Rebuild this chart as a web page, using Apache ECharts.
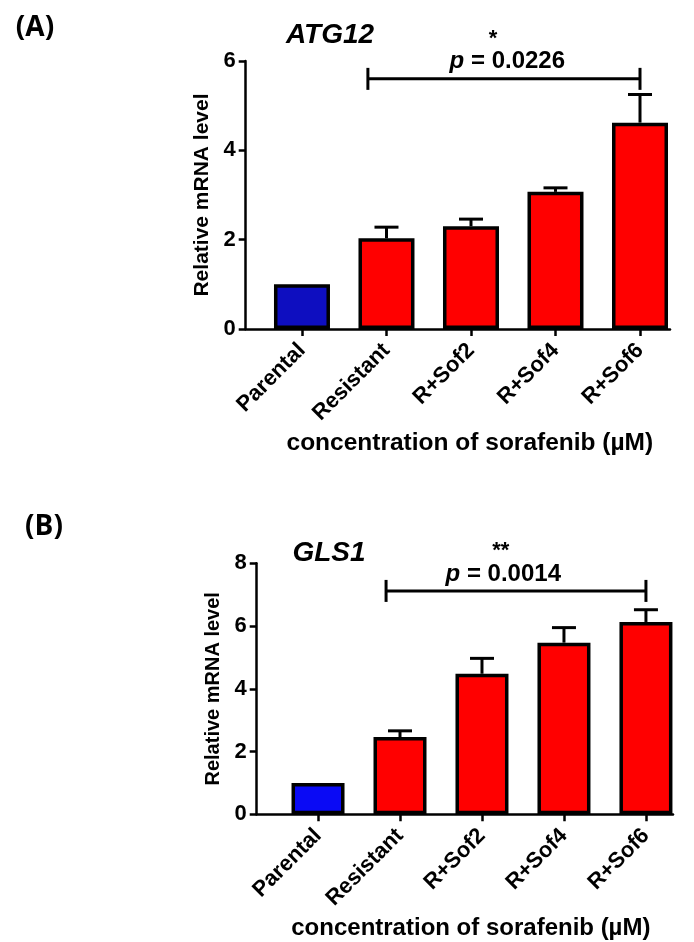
<!DOCTYPE html>
<html>
<head>
<meta charset="utf-8">
<script src="https://cdn.jsdelivr.net/npm/echarts@6/dist/echarts.min.js"></script>
<style>
html,body{margin:0;padding:0;background:#fff;}
#c{width:694px;height:942px;}
</style>
</head>
<body>
<div id="c"></div>
<script>
// ---- data ----
const categories = ['Parental', 'Resistant', 'R+Sof2', 'R+Sof4', 'R+Sof6'];
const atg12Mean = [1.0, 2.03, 2.30, 3.07, 4.62];
const atg12ErrTop = [null, 2.28, 2.46, 3.16, 5.25];
const gls1Mean = [1.0, 2.46, 4.48, 5.47, 6.13];
const gls1ErrTop = [null, 2.66, 4.97, 5.95, 6.52];
const yMaxA = 6, yMaxB = 8, yStep = 2;
const sigA = { from: 0.78, to: 4, level: 5.6, textAt: 2.43, starAt: 2.26, p: '0.0226', stars: '*' };
const sigB = { from: 0.83, to: 4, level: 7.12, textAt: 2.26, starAt: 2.23, p: '0.0014', stars: '**' };

const FONT = 'Liberation Sans, Arial, sans-serif';
const colorsA = ['#0e0ec0', '#ff0000', '#ff0000', '#ff0000', '#ff0000'];
const colorsB = ['#0a0af5', '#ff0000', '#ff0000', '#ff0000', '#ff0000'];

function barData(means, colors) {
  return means.map((v, i) => ({ value: [i, v], itemStyle: { color: colors[i] } }));
}
function errData(means, tops) {
  const out = [];
  means.forEach((v, i) => { if (tops[i] != null) out.push([i, v, tops[i]]); });
  return out;
}
function errRender(params, api) {
  const x = api.value(0), m = api.value(1), t = api.value(2);
  const p0 = api.coord([x, m]);
  const p1 = api.coord([x, t]);
  const st = { stroke: '#000', lineWidth: 3 };
  return {
    type: 'group', children: [
      { type: 'line', shape: { x1: p0[0], y1: p0[1], x2: p1[0], y2: p1[1] }, style: st },
      { type: 'line', shape: { x1: p1[0] - 12, y1: p1[1], x2: p1[0] + 12, y2: p1[1] }, style: st }
    ]
  };
}
function sigRender(sig) {
  return function (params, api) {
    const a = api.coord([sig.from, sig.level]);
    const b = api.coord([sig.to, sig.level]);
    const t = api.coord([sig.textAt, sig.level]);
    const s = api.coord([sig.starAt, sig.level]);
    const st = { stroke: '#000', lineWidth: 3 };
    return {
      type: 'group', children: [
        { type: 'line', shape: { x1: a[0], y1: a[1], x2: b[0], y2: b[1] }, style: st },
        { type: 'line', shape: { x1: a[0], y1: a[1] - 11, x2: a[0], y2: a[1] + 11 }, style: st },
        { type: 'line', shape: { x1: b[0], y1: b[1] - 11, x2: b[0], y2: b[1] + 11 }, style: st },
        { type: 'text', x: t[0], y: t[1] - 17, style: {
            text: '{i|p}{n| = ' + sig.p + '}', align: 'center', verticalAlign: 'middle',
            rich: {
              i: { fontFamily: FONT, fontSize: 24, fontWeight: 'bold', fontStyle: 'italic', fill: '#000' },
              n: { fontFamily: FONT, fontSize: 24, fontWeight: 'bold', fill: '#000' }
            } } },
        { type: 'text', x: s[0], y: s[1] - 40, style: {
            text: sig.stars, align: 'center', verticalAlign: 'middle',
            fontFamily: FONT, fontSize: 22, fontWeight: 'bold', fill: '#000' } }
      ]
    };
  };
}
function xAxisCfg(gridIndex, min, max, padLeft, nfs) {
  return {
    type: 'value', gridIndex, min, max,
    splitLine: { show: false },
    axisLine: { show: true, onZero: false, lineStyle: { color: '#000', width: 2.5 } },
    axisTick: { show: true, length: 7, lineStyle: { color: '#000', width: 2.5 }, customValues: [0, 1, 2, 3, 4] },
    axisLabel: {
      customValues: [0, 1, 2, 3, 4], rotate: 45, margin: 18,
      formatter: v => categories[Math.round(v)],
      color: '#000', fontFamily: FONT, fontSize: 22, fontWeight: 'bold'
    },
    name: 'concentration of sorafenib (\u00b5M)', nameLocation: 'middle', nameGap: 102,
    nameTextStyle: { color: '#000', fontFamily: FONT, fontSize: nfs, fontWeight: 'bold', padding: [0, 0, 0, padLeft] }
  };
}
function yAxisCfg(gridIndex, max, gap, fs) {
  return {
    type: 'value', gridIndex, min: 0, max, interval: yStep,
    splitLine: { show: false },
    axisLine: { show: true, onZero: false, lineStyle: { color: '#000', width: 2.5 } },
    axisTick: { show: true, length: 7, lineStyle: { color: '#000', width: 2.5 } },
    axisLabel: { color: '#000', fontFamily: FONT, fontSize: 22, fontWeight: 'bold', margin: 10 },
    name: 'Relative mRNA level', nameLocation: 'middle', nameGap: gap,
    nameTextStyle: { color: '#000', fontFamily: FONT, fontSize: fs, fontWeight: 'bold' }
  };
}

const chart = echarts.init(document.getElementById('c'), null, { renderer: 'canvas' });
chart.setOption({
  backgroundColor: '#fff',
  animation: false,
  grid: [
    { left: 245.7, top: 61, width: 424.3, height: 268 },
    { left: 256.7, top: 563.3, width: 416.3, height: 251 }
  ],
  xAxis: [
    xAxisCfg(0, -0.666, 4.355, 24, 24.5),
    xAxisCfg(1, -0.748, 4.33, 12, 24)
  ],
  yAxis: [
    yAxisCfg(0, yMaxA, 33, 21),
    yAxisCfg(1, yMaxB, 30, 20)
  ],
  graphic: [
    { type: 'text', x: 35, y: 28, style: { text: '(A)', fontFamily: 'Open Sans, sans-serif', fontSize: 28, fontWeight: 'bold', fill: '#000', align: 'center', verticalAlign: 'middle' } },
    { type: 'text', x: 44, y: 527, style: { text: '(B)', fontFamily: 'Open Sans, sans-serif', fontSize: 28, fontWeight: 'bold', fill: '#000', align: 'center', verticalAlign: 'middle' } },
    { type: 'text', x: 330, y: 35, style: { text: 'ATG12', fontFamily: FONT, fontSize: 28, fontWeight: 'bold', fontStyle: 'italic', fill: '#000', align: 'center', verticalAlign: 'middle' } },
    { type: 'text', x: 329, y: 553, style: { text: 'GLS1', fontFamily: FONT, fontSize: 28, fontWeight: 'bold', fontStyle: 'italic', fill: '#000', align: 'center', verticalAlign: 'middle' } }
  ],
  series: [
    { type: 'bar', xAxisIndex: 0, yAxisIndex: 0, barWidth: 56, data: barData(atg12Mean, colorsA),
      itemStyle: { borderColor: '#000', borderWidth: 3.5 }, z: 2 },
    { type: 'custom', xAxisIndex: 0, yAxisIndex: 0, data: errData(atg12Mean, atg12ErrTop), renderItem: errRender, z: 3 },
    { type: 'custom', xAxisIndex: 0, yAxisIndex: 0, data: [[sigA.from, sigA.level]], renderItem: sigRender(sigA), z: 3 },
    { type: 'bar', xAxisIndex: 1, yAxisIndex: 1, barWidth: 53, data: barData(gls1Mean, colorsB),
      itemStyle: { borderColor: '#000', borderWidth: 3.5 }, z: 2 },
    { type: 'custom', xAxisIndex: 1, yAxisIndex: 1, data: errData(gls1Mean, gls1ErrTop), renderItem: errRender, z: 3 },
    { type: 'custom', xAxisIndex: 1, yAxisIndex: 1, data: [[sigB.from, sigB.level]], renderItem: sigRender(sigB), z: 3 }
  ]
});
</script>
</body>
</html>
